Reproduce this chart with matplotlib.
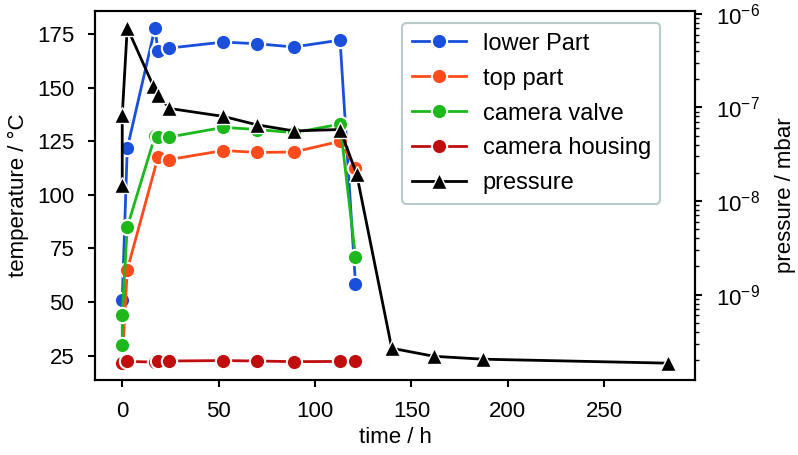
import matplotlib
matplotlib.use("Agg")
import matplotlib.pyplot as plt
import numpy as np

plt.rcParams['font.family'] = ['Liberation Sans', 'DejaVu Sans']
plt.rcParams['mathtext.fontset'] = 'custom'
plt.rcParams['mathtext.rm'] = 'Liberation Sans'
plt.rcParams['mathtext.it'] = 'Liberation Sans:italic'
plt.rcParams['font.size'] = 16

# temperaturas (h, °C)
t_lower = [0, 2.6, 17, 18.5, 24.5, 52.5, 70, 89, 113, 121]
lower = [51, 121.7, 178, 167, 168.5, 171.3, 170.5, 169, 172.2, 58.5]

t_top = [0, 2.6, 18.5, 24.5, 52.5, 70, 89, 113, 121]
top = [22, 65, 117.5, 116.5, 120.7, 119.8, 120, 125, 112.5]

t_valve = [0, 0, 2.6, 17, 18.5, 24.5, 52.5, 70, 89, 113, 121]
valve = [30, 44, 85, 127.5, 127, 127, 131.5, 130.5, 129, 133, 71]

t_housing = [0, 2.6, 17, 18.5, 24.5, 52.5, 70, 89, 113, 121]
housing = [21.5, 22.3, 22, 22.3, 22.5, 22.7, 22.5, 22.2, 22.3, 22.3]

# pressao (h, mbar)
t_p = [0, 0, 2.6, 16, 18.7, 24.4, 52.5, 70, 89, 113, 121.6, 139.8, 161.7, 187, 283]
p = [1.48e-8, 8.2e-8, 7.1e-7, 1.71e-7, 1.37e-7, 9.75e-8, 8.0e-8, 6.5e-8, 5.6e-8,
     5.8e-8, 1.94e-8, 2.67e-10, 2.19e-10, 2.04e-10, 1.85e-10]

fig = plt.figure(figsize=(7.98, 4.55), dpi=100)
ax = fig.add_axes([0.119, 0.165, 0.752, 0.811])
ax2 = ax.twinx()

mk = dict(marker='o', markersize=11, markeredgecolor='white', markeredgewidth=1.5, lw=2)
l1, = ax.plot(t_lower, lower, color='#1a4fdc', label='lower Part', **mk)
l2, = ax.plot(t_top, top, color='#ff4a1a', label='top part', **mk)
l3, = ax.plot(t_valve, valve, color='#1cb81c', label='camera valve', **mk)
l4, = ax.plot(t_housing, housing, color='#c00d0d', label='camera housing', **mk)
l5, = ax2.plot(t_p, p, color='black', marker='^', markersize=11,
               markeredgecolor='white', markeredgewidth=1.0, lw=2, label='pressure')
ax2.set_yscale('log')

ax.set_xlabel("time / h", labelpad=4)
ax.set_ylabel("temperature / °C", labelpad=6)
ax2.set_ylabel("pressure / mbar", labelpad=11)
ax.set_yticks([25, 50, 75, 100, 125, 150, 175])
ax.set_xticks([0, 50, 100, 150, 200, 250])

for a in (ax, ax2):
    for s in a.spines.values():
        s.set_linewidth(1.5)
    a.tick_params(width=1.5, length=5, pad=10)
ax2.tick_params(which='minor', width=1.0, length=3)

leg = ax2.legend(handles=[l1, l2, l3, l4, l5], loc='upper right',
                 bbox_to_anchor=(0.942, 0.967), borderaxespad=0, fancybox=True,
                 framealpha=1, handlelength=2.3, handletextpad=0.7, fontsize=17,
                 labelspacing=0.55)
leg.get_frame().set_edgecolor('#b8caca')
leg.get_frame().set_linewidth(1.5)

fig.savefig("out.png", dpi=100)
